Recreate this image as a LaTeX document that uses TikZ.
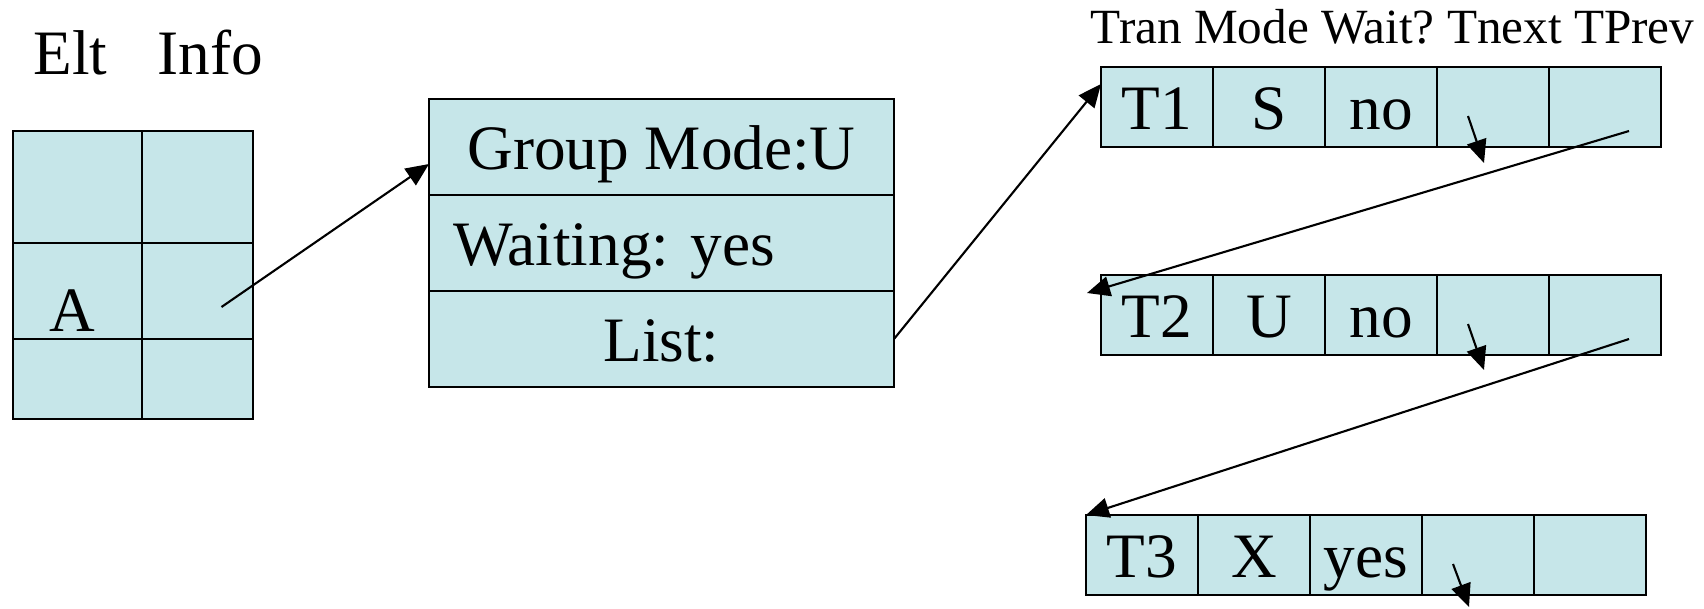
\documentclass[tikz,border=0pt]{standalone}
\usepackage{fontspec}
\setmainfont{Liberation Serif}
\usetikzlibrary{arrows.meta}
\definecolor{cellblue}{RGB}{198,230,233}
\frenchspacing
\tikzset{
  cell/.style={draw, fill=cellblue, line width=0.6pt, inner sep=0pt, outer sep=0pt,
    anchor=north west, minimum width=11.2mm, minimum height=8mm,
    font=\fontsize{18}{20}\selectfont, text height=13pt, text depth=0pt},
  head/.style={anchor=base west, inner sep=0pt, font=\fontsize{18}{20}\selectfont},
  ptr/.style={line width=0.6pt, -{Triangle[length=2.3mm,width=2mm]}}
}
\begin{document}
\begin{tikzpicture}[x=0.1mm, y=-0.1mm]
    \useasboundingbox (0,0) rectangle (1704,608);

    % Element table
    \node[head] (elt) at (33,74) {Elt};
    \node[head] (info) at (157,74) {Info};
    \foreach \r/\y/\h in {1/131/11.2mm, 2/243/9.6mm, 3/339/8mm} {
        \node[cell, minimum width=12.9mm, minimum height=\h] (e\r1) at (13,\y) {};
        \node[cell, minimum width=11.1mm, minimum height=\h] (e\r2) at (142,\y) {};
    }
    \node[head] (elta) at (49,331) {A};

    % Group record
    \node[cell, minimum width=46.5mm, minimum height=9.6mm] (grp) at (429,99) {Group Mode:U};
    \node[cell, minimum width=46.5mm, minimum height=9.6mm, text width=41.7mm, align=left] (wait) at (429,195) {Waiting: yes};
    \node[cell, minimum width=46.5mm, minimum height=9.6mm] (lst) at (429,291) {List:};
    \draw[ptr] ([shift={(24,16)}]e22.center) -- ([yshift=-1.7mm]grp.west);

    % Transaction list
    \node[anchor=base west, inner sep=0pt, font=\fontsize{14}{16}\selectfont] (hdr) at (1090,43) {Tran Mode Wait? Tnext TPrev};
    \foreach \row/\x/\y/\tr/\md/\wt in {1/1101/67/T1/S/no, 2/1101/275/T2/U/no, 3/1086/515/T3/X/yes}
        \foreach \txt [count=\i] in {\tr,\md,\wt,{},{}}
            \node[cell] (t\row\i) at ({\x+112*(\i-1)},\y) {\txt};
    \draw[ptr] (lst.east) -- ([yshift=-1.7mm]t11.north west);

    % Tnext pointers
    \foreach \row/\dy in {1/56, 2/55, 3/52}
        \draw[ptr] ([shift={(-25,9)}]t\row4.center) -- ([shift={(-9,\dy)}]t\row4.center);

    % TPrev pointers
    \draw[ptr] ([shift={(24,24)}]t15.center) -- ([shift={(-14,18)}]t21.north west);
    \draw[ptr] ([shift={(24,24)}]t25.center) -- (t31.north west);
\end{tikzpicture}
\end{document}
